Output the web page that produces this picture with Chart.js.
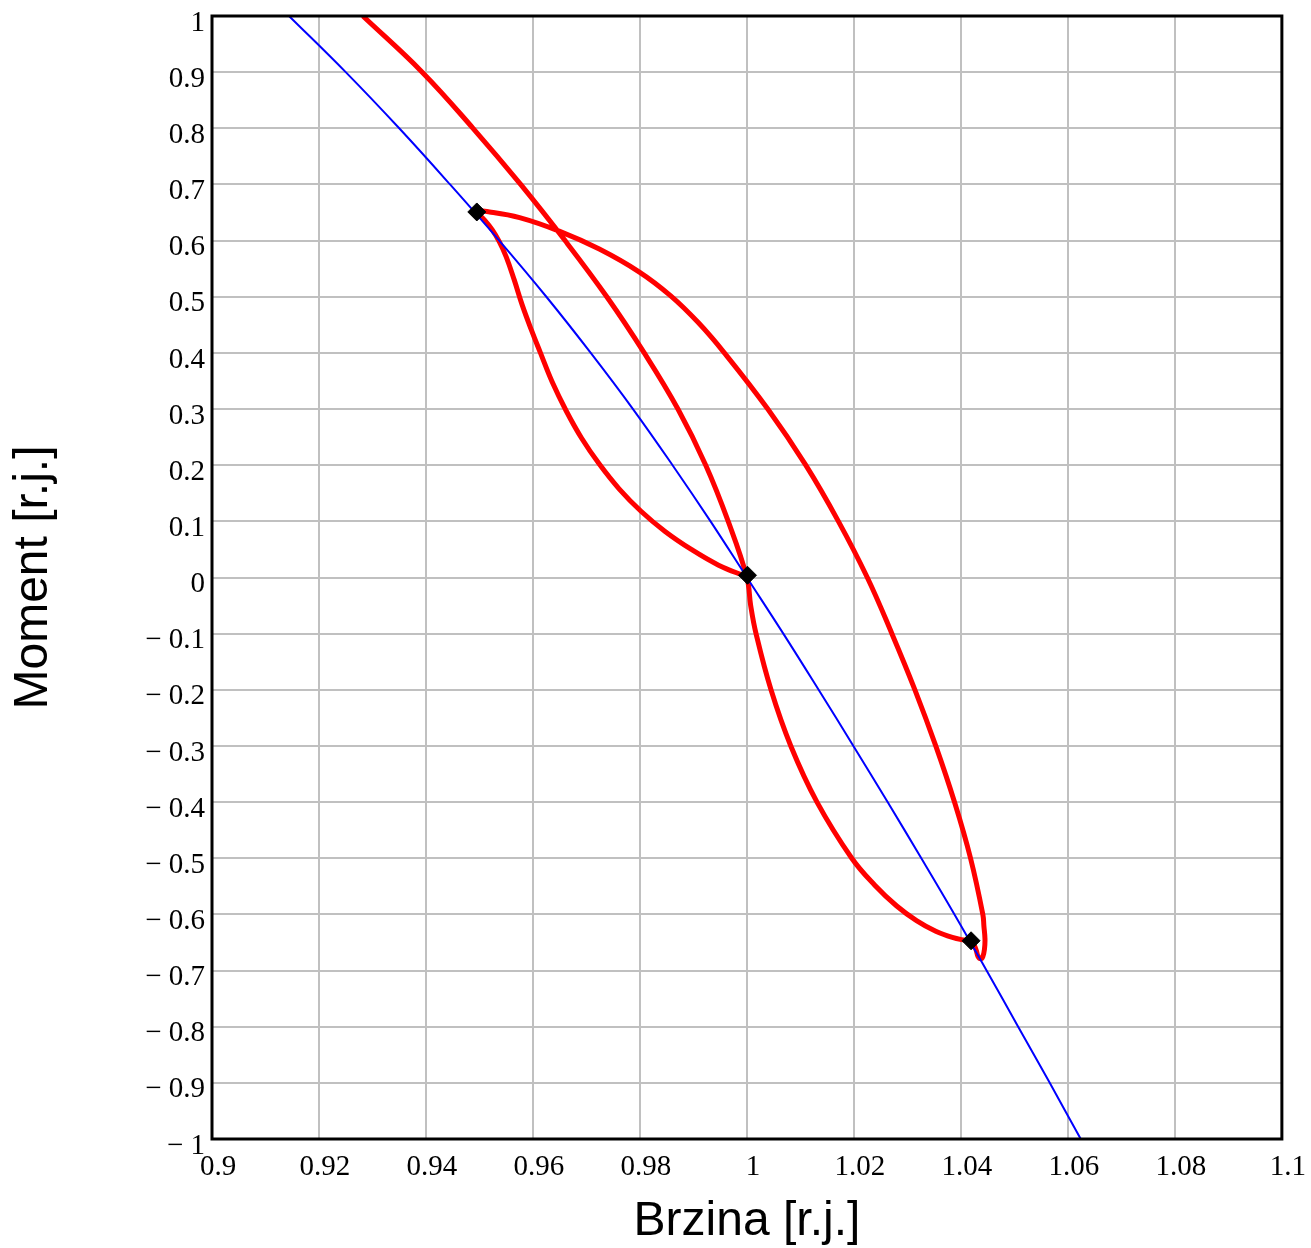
<!DOCTYPE html>
<html>
<head>
<meta charset="utf-8">
<title>Moment - Brzina</title>
<script src="https://cdn.jsdelivr.net/npm/chart.js@4.4.1/dist/chart.umd.min.js"></script>
<style>
    html, body { margin: 0; padding: 0; background: #ffffff; }
    #wrap { width: 1311px; height: 1248px; }
</style>
</head>
<body>
<div id="wrap"><canvas id="chart" width="1311" height="1248"></canvas></div>
<script>
// Static characteristic (blue)
const staticSpeed  = [0.9144, 0.9250, 0.9350, 0.9445, 0.9537, 0.9625, 0.9708, 0.9787, 0.9861, 0.9932, 1.0000,
                      1.0068, 1.0134, 1.0199, 1.0263, 1.0326, 1.0388, 1.0448, 1.0507, 1.0566, 1.0624];
const staticTorque = [1.0, 0.9, 0.8, 0.7, 0.6, 0.5, 0.4, 0.3, 0.2, 0.1, 0.0,
                      -0.1, -0.2, -0.3, -0.4, -0.5, -0.6, -0.7, -0.8, -0.9, -1.0];

// Dynamic trajectory (red): first swing, lower hook, outer arc, lobe back to the operating point
const dynSpeed = [
    // first swing down to the lower point
    0.9282, 0.9393, 0.9488, 0.9577, 0.9660, 0.9738, 0.9808, 0.9871, 0.9923, 0.9965, 1.0000,
    1.0007, 1.0017, 1.0045, 1.0082, 1.0131, 1.0196, 1.0239, 1.0280, 1.0317, 1.0353, 1.0384, 1.0407, 1.0420,
    // hook
    1.0425, 1.0429, 1.0432, 1.0437, 1.0441, 1.0444, 1.0445, 1.0443,
    // outer arc up to the upper point
    1.0441, 1.0418, 1.0388, 1.0353, 1.0314, 1.0271, 1.0225, 1.0171, 1.0110, 1.0039, 0.9957, 0.9909,
    0.9857, 0.9799, 0.9724, 0.9649, 0.9575, 0.9519,
    // lobe back to the operating point
    0.9494, 0.9509, 0.9524, 0.9537, 0.9550, 0.9565, 0.9580, 0.9597, 0.9614, 0.9636, 0.9662, 0.9691,
    0.9724, 0.9761, 0.9802, 0.9847, 0.9896, 0.9947, 1.0000
];
const dynTorque = [
    1.0, 0.9, 0.8, 0.7, 0.6, 0.5, 0.4, 0.3, 0.2, 0.1, 0.0,
    -0.05, -0.1, -0.2, -0.3, -0.4, -0.5, -0.548, -0.585, -0.611, -0.630, -0.641, -0.646, -0.648,
    -0.655, -0.665, -0.675, -0.679, -0.675, -0.662, -0.644, -0.621,
    -0.6, -0.5, -0.4, -0.3, -0.2, -0.1, 0.0, 0.1, 0.2, 0.3, 0.401, 0.454,
    0.502, 0.544, 0.585, 0.617, 0.641, 0.651,
    0.652, 0.637, 0.619, 0.598, 0.571, 0.530, 0.485, 0.441, 0.400, 0.348, 0.297, 0.248,
    0.202, 0.158, 0.118, 0.082, 0.050, 0.022, 0.001
];

// Operating points (black diamonds)
const pointSpeed  = [0.9495, 1.0001, 1.0419];
const pointTorque = [0.651, 0.004, -0.647];

// Axis ticks
const xTickValues = [0.9, 0.92, 0.94, 0.96, 0.98, 1.0, 1.02, 1.04, 1.06, 1.08, 1.1];
const xTickLabels = ['0.9', '0.92', '0.94', '0.96', '0.98', '1', '1.02', '1.04', '1.06', '1.08', '1.1'];
const yTickValues = [-1, -0.9, -0.8, -0.7, -0.6, -0.5, -0.4, -0.3, -0.2, -0.1, 0,
                     0.1, 0.2, 0.3, 0.4, 0.5, 0.6, 0.7, 0.8, 0.9, 1];
const yTickLabels = ['\u2212 1', '\u2212 0.9', '\u2212 0.8', '\u2212 0.7', '\u2212 0.6', '\u2212 0.5',
                     '\u2212 0.4', '\u2212 0.3', '\u2212 0.2', '\u2212 0.1', '0',
                     '0.1', '0.2', '0.3', '0.4', '0.5', '0.6', '0.7', '0.8', '0.9', '1'];

function toPoints(xs, ys) {
    return xs.map((x, i) => ({ x: x, y: ys[i] }));
}

const serif = "'Liberation Serif', 'Times New Roman', serif";
const sans = "'Liberation Sans', Arial, sans-serif";

// Black frame around the plot area
const frame = {
    id: 'frame',
    afterDraw(chart) {
        const a = chart.chartArea;
        const ctx = chart.ctx;
        ctx.save();
        ctx.strokeStyle = '#000000';
        ctx.lineWidth = 3;
        ctx.strokeRect(a.left, a.top, a.right - a.left, a.bottom - a.top);
        ctx.restore();
    }
};

const ctx = document.getElementById('chart').getContext('2d');
const chart = new Chart(ctx, {
    type: 'scatter',
    data: {
        datasets: [{
            label: 'Radne tocke',
            data: toPoints(pointSpeed, pointTorque),
            pointStyle: 'rectRot',
            pointRadius: 9,
            pointBackgroundColor: '#000000',
            pointBorderColor: '#000000',
            pointBorderWidth: 1,
            showLine: false,
            order: 1
        }, {
            label: 'Staticka karakteristika',
            data: toPoints(staticSpeed, staticTorque),
            showLine: true,
            borderColor: '#0000ff',
            borderWidth: 2,
            pointRadius: 0,
            tension: 0.4,
            order: 2
        }, {
            label: 'Dinamicka karakteristika',
            data: toPoints(dynSpeed, dynTorque),
            showLine: true,
            borderColor: '#ff0000',
            borderWidth: 5,
            pointRadius: 0,
            tension: 0.4,
            order: 3
        }]
    },
    options: {
        responsive: false,
        animation: false,
        devicePixelRatio: 1,
        layout: {
            padding: { left: 0, right: 27, top: 16, bottom: 0 }
        },
        plugins: {
            legend: { display: false },
            tooltip: { enabled: false }
        },
        scales: {
            x: {
                type: 'linear',
                min: 0.9,
                max: 1.1,
                afterBuildTicks: function(scale) {
                    scale.ticks = xTickValues.map(v => ({ value: v }));
                },
                afterFit: function(scale) {
                    scale.height = 109;
                },
                grid: { color: '#c0c0c0', lineWidth: 2, drawTicks: false },
                border: { display: false },
                ticks: {
                    padding: 11,
                    labelOffset: 6,
                    maxRotation: 0,
                    autoSkip: false,
                    color: '#000000',
                    font: { family: serif, size: 29, lineHeight: 1.2 },
                    callback: function(value, index) {
                        return xTickLabels[index];
                    }
                },
                title: {
                    display: true,
                    text: 'Brzina [r.j.]',
                    color: '#000000',
                    font: { family: sans, size: 48, lineHeight: 1 },
                    padding: { top: 0, bottom: 2 }
                }
            },
            y: {
                type: 'linear',
                min: -1,
                max: 1,
                afterBuildTicks: function(scale) {
                    scale.ticks = yTickValues.map(v => ({ value: v }));
                },
                afterFit: function(scale) {
                    scale.width = 212;
                },
                grid: { color: '#c0c0c0', lineWidth: 2, drawTicks: false },
                border: { display: false },
                ticks: {
                    padding: 7,
                    labelOffset: 7,
                    autoSkip: false,
                    color: '#000000',
                    font: { family: serif, size: 29, lineHeight: 0.6 },
                    callback: function(value, index) {
                        return yTickLabels[index];
                    }
                },
                title: {
                    display: true,
                    text: 'Moment [r.j.]',
                    color: '#000000',
                    font: { family: sans, size: 48, lineHeight: 1.2 },
                    padding: { top: 5, bottom: 0 }
                }
            }
        }
    },
    plugins: [frame]
});
</script>
</body>
</html>
